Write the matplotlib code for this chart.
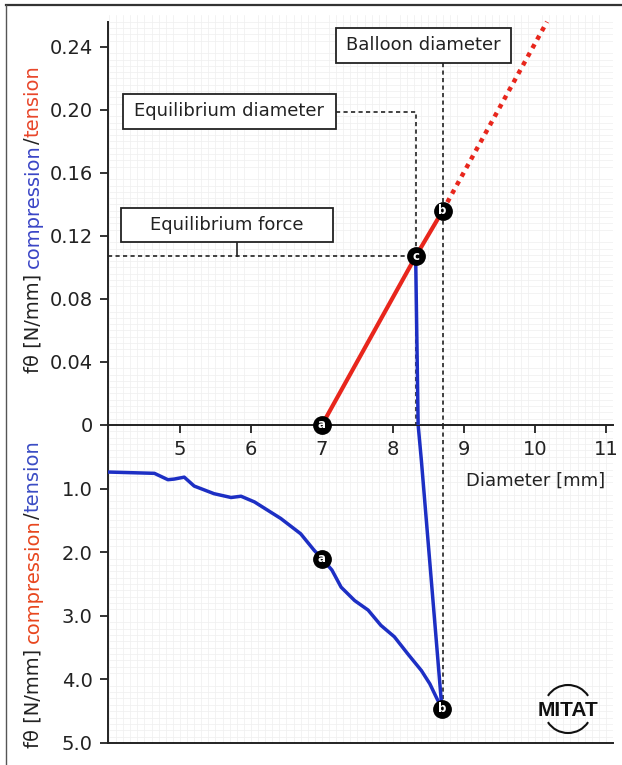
import matplotlib.pyplot as plt
from matplotlib.patches import Rectangle, Arc
import numpy as np

# compression curve (lower panel), diameter [mm] vs f_theta [N/mm]
comp_x = [4.0, 4.64, 4.83, 4.92, 5.06, 5.20, 5.48, 5.72, 5.86, 6.05, 6.42, 6.70,
          6.89, 7.0, 7.14, 7.27, 7.46, 7.65, 7.83, 8.02, 8.21, 8.40, 8.52, 8.61, 8.69]
comp_f = [0.74, 0.76, 0.86, 0.85, 0.82, 0.96, 1.08, 1.14, 1.12, 1.21, 1.47, 1.71,
          1.97, 2.10, 2.28, 2.55, 2.76, 2.91, 3.15, 3.33, 3.60, 3.86, 4.07, 4.28, 4.46]

# tension line (upper panel)
tens_x = [7.0, 8.32, 8.70]
tens_f = [0.0, 0.107, 0.136]
ext_x = [8.70, 10.17]
ext_f = [0.136, 0.256]

# recoil from balloon diameter back to equilibrium
recoil_top_x = [8.32, 8.355]
recoil_top_f = [0.107, 0.0]
recoil_bot_x = [8.355, 8.40, 8.69]
recoil_bot_f = [0.0, 0.55, 4.46]

eq_diam = 8.32
eq_force = 0.107
balloon_diam = 8.70

top_points = [('a', 7.0, 0.0), ('c', 8.32, 0.107), ('b', 8.70, 0.136)]
bot_points = [('a', 7.0, 2.10), ('b', 8.69, 4.46)]

x_ticks = [5, 6, 7, 8, 9, 10, 11]
top_ticks = [0, 0.04, 0.08, 0.12, 0.16, 0.20, 0.24]
top_labels = ['0', '0.04', '0.08', '0.12', '0.16', '0.20', '0.24']
bot_ticks = [1.0, 2.0, 3.0, 4.0, 5.0]
bot_labels = ['1.0', '2.0', '3.0', '4.0', '5.0']

RED = '#e8261c'
BLUE = '#1d2fc4'
INK = '#222222'

W, H = 622, 765
fig = plt.figure(figsize=(W / 100, H / 100), dpi=100)

def fx(px):
    return px / W

def fy(py):
    return 1 - py / H

ax_top = fig.add_axes([fx(108), fy(425), fx(613) - fx(108), fy(15) - fy(425)])
ax_bot = fig.add_axes([fx(108), fy(743), fx(613) - fx(108), fy(425) - fy(743)])

for ax in (ax_top, ax_bot):
    ax.set_facecolor('none')
    ax.set_xlim(3.986, 11.1)
    ax.set_xticks(np.arange(4.0, 11.1, 0.1), minor=True)
    ax.spines['right'].set_visible(False)
    ax.spines['top'].set_visible(False)
    for s in ax.spines.values():
        s.set_linewidth(1.4)
        s.set_color(INK)
    ax.tick_params(which='major', direction='out', length=6, width=1.3, color=INK,
                   labelsize=14, labelcolor=INK, pad=5)
    ax.tick_params(which='minor', length=0)
    ax.grid(which='minor', color='#efefef', lw=0.5)
    ax.set_axisbelow(True)

ax_top.set_ylim(0, 0.2603)
ax_top.set_yticks(top_ticks, top_labels)
ax_top.set_yticks(np.arange(0, 0.26, 0.004), minor=True)
ax_top.set_xticks(x_ticks, [str(v) for v in x_ticks])
ax_top.spines['left'].set_bounds(0, 0.256)
ax_top.set_zorder(3)

ax_bot.set_ylim(5.0, 0)
ax_bot.set_yticks(bot_ticks, bot_labels)
ax_bot.set_yticks(np.arange(0, 5.0, 0.1), minor=True)
ax_bot.set_xticks([])
ax_bot.spines['top'].set_visible(False)

# guide lines
dash = dict(color=INK, lw=1.2, ls=(0, (2.5, 2)), zorder=2)
ax_top.plot([3.986, eq_diam], [eq_force, eq_force], **dash)
ax_top.plot([5.80, 5.80], [0.1162, eq_force], color=INK, lw=1.2, zorder=2)
ax_top.plot([7.197, eq_diam, eq_diam], [0.199, 0.199, 0.0], **dash)
ax_top.plot([balloon_diam, balloon_diam], [0.2298, 0.0], **dash)
ax_bot.plot([balloon_diam, balloon_diam], [0.0, 4.4], **dash)

# curves
ax_top.plot(tens_x, tens_f, color=RED, lw=3, solid_capstyle='round', zorder=4)
ax_top.plot(ext_x, ext_f, color=RED, lw=3.2, ls=(0, (1.0, 1.2)), zorder=4)
ax_top.plot(recoil_top_x, recoil_top_f, color=BLUE, lw=2.5, zorder=3)
ax_bot.plot(recoil_bot_x, recoil_bot_f, color=BLUE, lw=2.5, zorder=3)
ax_bot.plot(comp_x, comp_f, color=BLUE, lw=2.5, solid_joinstyle='round', zorder=3)

# point markers
for ax, pts in ((ax_top, top_points), (ax_bot, bot_points)):
    for lab, x, y in pts:
        ax.plot(x, y, 'o', ms=12.5, color='black', clip_on=False, zorder=6)
        ax.text(x, y, lab, color='white', fontsize=8.5, fontweight='bold',
                ha='center', va='center', zorder=7, clip_on=False)

# label boxes
boxes = [('Equilibrium diameter', 4.197, 7.197, 0.1879, 0.2102),
         ('Equilibrium force', 4.169, 7.155, 0.1162, 0.1378),
         ('Balloon diameter', 7.197, 9.662, 0.2298, 0.2521)]
for txt, x0, x1, y0, y1 in boxes:
    ax_top.add_patch(Rectangle((x0, y0), x1 - x0, y1 - y0, facecolor='white',
                               edgecolor=INK, lw=1.3, zorder=5))
    ax_top.text((x0 + x1) / 2, (y0 + y1) / 2, txt, fontsize=13, color=INK,
                ha='center', va='center', zorder=6)

ax_bot.text(10.99, 0.87, 'Diameter [mm]', fontsize=13, color=INK, ha='right', va='center')

# two-coloured y labels, built piece by piece
renderer = fig.canvas.get_renderer()

def stacked_label(pieces, x_px, bottom_px):
    y = H - bottom_px
    for txt, col in pieces:
        if txt == ' ':
            y += 6.2
            continue
        t = fig.text(fx(x_px), y / H, txt, rotation=90, rotation_mode='anchor',
                     ha='left', va='center', color=col, fontsize=14)
        y += t.get_window_extent(renderer).height

stacked_label([('fθ [N/mm]', INK), (' ', None), ('compression', '#3a45c6'),
               ('/', INK), ('tension', '#e8462a')], 33, 373)
stacked_label([('fθ [N/mm]', INK), (' ', None), ('compression', '#e8461e'),
               ('/', INK), ('tension', '#3a4cc4')], 33, 748)

# MITAT logo
fig.text(fx(568), fy(710), 'MITAT', fontsize=15, fontweight='bold', family='Liberation Sans',
         color='#111111', ha='center', va='center')
for a1, a2 in ((28, 152), (208, 332)):
    fig.add_artist(Arc((fx(568), fy(709)), 48 / W, 48 / H, theta1=a1, theta2=a2,
                       transform=fig.transFigure, color='#111111', lw=1.5))

# scan frame (top and left edges)
fig.add_artist(plt.Line2D([fx(6), 1], [fy(5), fy(5)], transform=fig.transFigure,
                          color='#333333', lw=1.6))
fig.add_artist(plt.Line2D([fx(6), fx(6)], [0, fy(5)], transform=fig.transFigure,
                          color='#555555', lw=1.0))

fig.savefig('out.png', dpi=100)
